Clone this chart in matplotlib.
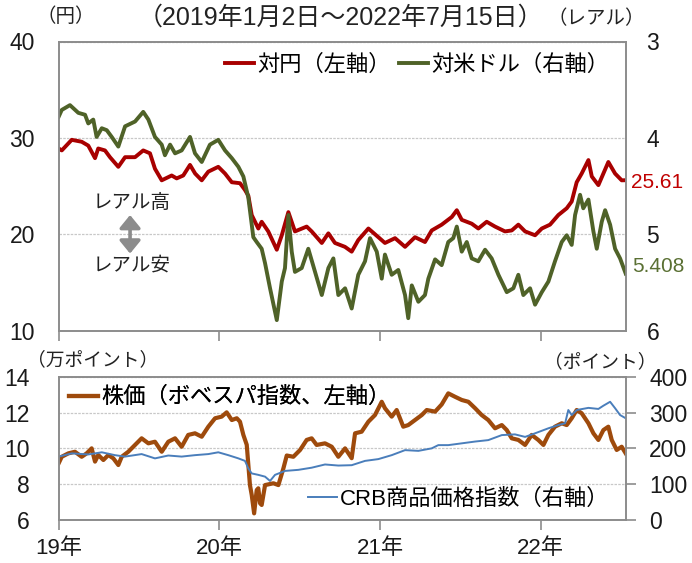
import matplotlib
matplotlib.use('Agg')
import matplotlib.pyplot as plt
from matplotlib.patches import FancyArrowPatch
import numpy as np

plt.rcParams['font.family'] = ['Liberation Sans', 'Noto Sans CJK JP']

# ---- data (decimal years) ----
jpy_t = [0.000, 0.019, 0.081, 0.143, 0.184, 0.226, 0.246, 0.288, 0.319, 0.371, 0.413, 0.475,
         0.526, 0.568, 0.599, 0.641, 0.703, 0.734, 0.775, 0.817, 0.849, 0.890, 0.931, 0.993,
         1.035, 1.077, 1.128, 1.159, 1.180, 1.201, 1.242, 1.263, 1.304, 1.357, 1.388, 1.429,
         1.470, 1.543, 1.574, 1.637, 1.678, 1.719, 1.781, 1.823, 1.864, 1.927, 1.989, 2.030,
         2.093, 2.155, 2.217, 2.279, 2.321, 2.383, 2.446, 2.477, 2.508, 2.570, 2.611, 2.663,
         2.715, 2.777, 2.819, 2.860, 2.902, 2.964, 3.006, 3.057, 3.109, 3.161, 3.192, 3.223,
         3.254, 3.296, 3.317, 3.358, 3.420, 3.462, 3.503, 3.528]
jpy_v = [28.9, 28.7, 29.8, 29.6, 29.2, 27.9, 28.9, 28.7, 28.0, 27.0, 28.0, 28.0,
         28.7, 28.4, 26.8, 25.6, 26.1, 25.8, 26.1, 27.2, 26.3, 25.6, 26.5, 27.0,
         26.3, 25.4, 25.3, 24.6, 24.0, 22.0, 20.6, 21.3, 20.3, 18.4, 19.9, 22.3,
         20.3, 20.8, 20.3, 19.1, 20.1, 19.1, 18.7, 18.2, 19.4, 20.6, 19.7, 19.1,
         19.6, 18.7, 19.7, 19.2, 20.4, 21.0, 21.8, 22.5, 21.5, 21.1, 20.6, 21.3,
         20.8, 20.3, 20.4, 21.0, 20.3, 19.9, 20.6, 21.0, 22.0, 22.7, 23.4, 25.4,
         26.3, 27.7, 26.0, 25.1, 27.5, 26.3, 25.6, 25.61]

usd_t = [0.000, 0.019, 0.070, 0.122, 0.164, 0.184, 0.215, 0.236, 0.268, 0.299, 0.330, 0.371,
         0.413, 0.475, 0.526, 0.558, 0.599, 0.641, 0.661, 0.693, 0.724, 0.765, 0.817, 0.848,
         0.890, 0.941, 0.993, 1.035, 1.077, 1.118, 1.149, 1.180, 1.211, 1.232, 1.263, 1.284,
         1.315, 1.357, 1.388, 1.408, 1.429, 1.450, 1.470, 1.512, 1.553, 1.595, 1.637, 1.678,
         1.709, 1.740, 1.782, 1.823, 1.864, 1.906, 1.937, 1.979, 2.010, 2.030, 2.072, 2.113,
         2.155, 2.175, 2.197, 2.238, 2.279, 2.300, 2.342, 2.383, 2.424, 2.455, 2.477, 2.508,
         2.539, 2.570, 2.611, 2.653, 2.694, 2.736, 2.788, 2.829, 2.860, 2.891, 2.933, 2.964,
         3.006, 3.047, 3.088, 3.130, 3.161, 3.192, 3.213, 3.244, 3.264, 3.296, 3.327, 3.348,
         3.379, 3.400, 3.431, 3.462, 3.493, 3.528]
usd_v = [3.78, 3.71, 3.66, 3.74, 3.76, 3.85, 3.81, 3.99, 3.90, 3.92, 3.99, 4.09,
         3.88, 3.83, 3.73, 3.81, 3.99, 4.07, 4.18, 4.07, 4.16, 4.13, 3.99, 4.16,
         4.25, 4.07, 4.02, 4.13, 4.21, 4.30, 4.40, 4.62, 5.03, 5.08, 5.15, 5.30,
         5.56, 5.89, 5.49, 5.35, 4.80, 5.18, 5.39, 5.35, 5.15, 5.39, 5.63, 5.35,
         5.25, 5.63, 5.56, 5.77, 5.42, 5.28, 5.04, 5.18, 5.46, 5.21, 5.42, 5.37,
         5.63, 5.87, 5.53, 5.70, 5.63, 5.46, 5.26, 5.32, 5.08, 5.04, 4.92, 5.18,
         5.08, 5.25, 5.28, 5.16, 5.25, 5.42, 5.60, 5.56, 5.42, 5.63, 5.56, 5.73,
         5.60, 5.49, 5.28, 5.08, 5.01, 5.11, 4.80, 4.59, 4.73, 4.64, 4.97, 5.15,
         4.87, 4.75, 4.90, 5.15, 5.25, 5.408]

bov_t = [0.000, 0.019, 0.060, 0.101, 0.143, 0.174, 0.205, 0.226, 0.246, 0.278, 0.309, 0.340,
         0.371, 0.392, 0.433, 0.475, 0.516, 0.558, 0.599, 0.641, 0.682, 0.724, 0.765, 0.806,
         0.848, 0.890, 0.931, 0.973, 1.014, 1.045, 1.077, 1.108, 1.128, 1.149, 1.170, 1.190,
         1.201, 1.216, 1.232, 1.242, 1.253, 1.263, 1.284, 1.336, 1.367, 1.398, 1.419, 1.460,
         1.502, 1.543, 1.574, 1.605, 1.657, 1.699, 1.740, 1.782, 1.823, 1.844, 1.885, 1.927,
         1.968, 2.010, 2.030, 2.072, 2.103, 2.144, 2.175, 2.217, 2.259, 2.290, 2.342, 2.383,
         2.424, 2.466, 2.508, 2.549, 2.591, 2.632, 2.673, 2.715, 2.757, 2.788, 2.819, 2.860,
         2.902, 2.943, 2.984, 3.016, 3.047, 3.088, 3.130, 3.161, 3.192, 3.223, 3.254, 3.296,
         3.327, 3.358, 3.389, 3.420, 3.441, 3.472, 3.503, 3.528]
bov_v = [9.17, 9.53, 9.72, 9.81, 9.53, 9.72, 10.0, 9.26, 9.63, 9.35, 9.63, 9.44,
         9.07, 9.53, 9.81, 10.19, 10.56, 10.28, 10.37, 9.81, 10.37, 10.56, 10.09, 10.75,
         10.84, 10.65, 11.21, 11.68, 11.77, 12.01, 11.58, 11.68, 11.49, 10.75, 10.2, 7.95,
         7.4, 6.37, 7.67, 7.77, 6.93, 6.84, 7.95, 8.05, 7.95, 8.88, 9.6, 9.53,
         9.91, 10.47, 10.56, 10.19, 10.28, 10.09, 9.53, 10.0, 9.45, 10.84, 10.93, 11.49,
         11.86, 12.60, 12.24, 11.77, 12.14, 11.21, 11.30, 11.58, 11.86, 12.14, 12.05, 12.45,
         13.07, 12.88, 12.70, 12.60, 12.24, 11.86, 11.58, 11.12, 11.30, 11.02, 10.56, 10.47,
         10.19, 10.75, 10.47, 10.19, 10.75, 11.21, 11.40, 11.30, 11.68, 12.14, 11.96, 11.40,
         10.84, 10.47, 11.02, 11.21, 10.47, 9.91, 10.09, 9.72]

crb_t = [0.000, 0.081, 0.184, 0.268, 0.350, 0.413, 0.516, 0.599, 0.682, 0.765, 0.848, 0.931,
         0.993, 1.055, 1.118, 1.159, 1.180, 1.201, 1.242, 1.284, 1.315, 1.346, 1.408, 1.491,
         1.574, 1.657, 1.740, 1.823, 1.906, 1.989, 2.072, 2.155, 2.238, 2.321, 2.362, 2.424,
         2.508, 2.591, 2.673, 2.757, 2.839, 2.902, 2.964, 3.047, 3.109, 3.151, 3.171, 3.192,
         3.223, 3.296, 3.358, 3.389, 3.431, 3.462, 3.493, 3.528]
crb_v = [177, 186, 183, 189, 181, 177, 184, 172, 180, 177, 181, 184,
         189, 181, 172, 165, 144, 130, 126, 121, 109, 126, 137, 140,
         146, 155, 152, 153, 165, 170, 181, 195, 193, 200, 209, 209,
         214, 219, 223, 237, 239, 232, 242, 256, 265, 270, 307, 293,
         307, 313, 310, 319, 330, 312, 293, 284]

year_ticks = [2019, 2020, 2021, 2022]
year_labels = ['19年', '20年', '21年', '22年']

jpy_t = 2019 + np.array(jpy_t)
usd_t = 2019 + np.array(usd_t)
bov_t = 2019 + np.array(bov_t)
crb_t = 2019 + np.array(crb_t)

RED = '#A80000'
GREEN = '#4F6228'
BROWN = '#9E4A0C'
BLUE = '#4A7EBB'
SPINE = '#8C8C8C'
GRID = '#C8C8C8'
TXT = '#1a1a1a'

W, H = 692, 563
fig = plt.figure(figsize=(W / 100, H / 100), dpi=100)

def fx(px):
    return px / W

def fy(py):
    return 1 - py / H

xmin, xmax = 2019.0, 2019 + 3.528

# ---------------- top panel ----------------
ax1 = fig.add_axes([fx(58.7), fy(330.7), fx(625.7) - fx(58.7), fy(41.5) - fy(330.7)])
ax1r = ax1.twinx()
ax1.set_xlim(xmin, xmax)
ax1.set_ylim(10, 40)
ax1r.set_ylim(6, 3)
ax1.set_yticks([10, 20, 30, 40])
ax1r.set_yticks([3, 4, 5, 6])
ax1.yaxis.grid(True, color=GRID, linestyle=(0, (2, 1)), lw=0.9)
ax1.set_axisbelow(True)
l1, = ax1.plot(jpy_t, jpy_v, color=RED, lw=2.8, solid_joinstyle='round', label='対円（左軸）')
l2, = ax1r.plot(usd_t, usd_v, color=GREEN, lw=2.8, solid_joinstyle='round', label='対米ドル（右軸）')
ax1.set_xticks(year_ticks)
ax1.set_xticklabels([])
ax1.tick_params(axis='x', direction='out', length=7, color=SPINE, width=1.2)
ax1.tick_params(axis='y', length=0, pad=17, labelsize=16.5, labelcolor=TXT)
ax1r.tick_params(axis='y', length=0, pad=15, labelsize=16.5, labelcolor=TXT)
for a in (ax1, ax1r):
    for s in a.spines.values():
        s.set_color(SPINE)
        s.set_linewidth(1.2)
ax1.legend(handles=[l1, l2], loc='upper right', bbox_to_anchor=(0.995, 1.0), ncol=2,
           frameon=False, fontsize=16, handlelength=1.3, handletextpad=0.15,
           columnspacing=0.4, borderaxespad=0.2)

ax1.annotate(f'{jpy_v[-1]:.2f}', xy=(jpy_t[-1], jpy_v[-1]), xytext=(4, -2),
             textcoords='offset points', color='#C00000', fontsize=15, va='center', ha='left',
             annotation_clip=False)
ax1r.annotate(f'{usd_v[-1]:.3f}', xy=(usd_t[-1], usd_v[-1]), xytext=(5, 5),
              textcoords='offset points', color='#5A7033', fontsize=15, va='center', ha='left',
              annotation_clip=False)

# レアル高 / 安 annotation
ax1.text(2019.456, 23.2, 'レアル高', fontsize=14, color='#222222', ha='center', va='center')
ax1.text(2019.456, 16.8, 'レアル安', fontsize=14, color='#222222', ha='center', va='center')
arr = FancyArrowPatch((2019.444, 22.0), (2019.444, 18.0),
                      arrowstyle='<|-|>,head_length=0.55,head_width=0.45',
                      mutation_scale=14, lw=2.6, color='#8C8C8C', shrinkA=0, shrinkB=0)
ax1.add_patch(arr)

# ---------------- bottom panel ----------------
ax2 = fig.add_axes([fx(58.7), fy(520), fx(625.7) - fx(58.7), fy(376.7) - fy(520)])
ax2r = ax2.twinx()
ax2.set_xlim(xmin, xmax)
ax2.set_ylim(6, 14)
ax2r.set_ylim(0, 400)
ax2.set_yticks([6, 8, 10, 12, 14])
ax2r.set_yticks([0, 100, 200, 300, 400])
ax2.yaxis.grid(True, color=GRID, linestyle=(0, (2, 1)), lw=0.9)
ax2.set_axisbelow(True)
l3, = ax2.plot(bov_t, bov_v, color=BROWN, lw=3.0, solid_joinstyle='round',
               label='株価（ボベスパ指数、左軸）')
l4, = ax2r.plot(crb_t, crb_v, color=BLUE, lw=1.4, label='CRB商品価格指数（右軸）')
ax2.set_xticks(year_ticks)
ax2.set_xticklabels(year_labels)
ax2.tick_params(axis='x', direction='out', length=7, color=SPINE, width=1.2, pad=6,
                labelsize=16, labelcolor=TXT)
ax2.tick_params(axis='y', length=0, pad=21, labelsize=16.5, labelcolor=TXT)
ax2r.tick_params(axis='y', direction='out', length=7, color=SPINE, width=1.2, pad=10,
                 labelsize=16.5, labelcolor=TXT)
for a in (ax2, ax2r):
    for s in a.spines.values():
        s.set_color(SPINE)
        s.set_linewidth(1.2)
lg1 = ax2.legend(handles=[l3], loc='upper left', bbox_to_anchor=(-0.005, 1.02), frameon=False,
                 fontsize=16, handlelength=1.3, handletextpad=0.15, borderaxespad=0.2)
ax2.add_artist(lg1)
ax2r.legend(handles=[l4], loc='lower right', bbox_to_anchor=(0.995, -0.02), frameon=False,
            fontsize=16, handlelength=1.3, handletextpad=0.15, borderaxespad=0.2)

# ---------------- header / unit texts ----------------
fig.text(fx(340), fy(18), '（2019年1月2日～2022年7月15日）', fontsize=18, ha='center', va='center',
         color='#222222')
fig.text(fx(66), fy(17), '（円）', fontsize=14, ha='center', va='center', color='#222222')
fig.text(fx(596), fy(19), '（レアル）', fontsize=14, ha='center', va='center', color='#222222')
fig.text(fx(93), fy(360), '（万ポイント）', fontsize=13.5, ha='center', va='center', color='#222222')
fig.text(fx(600), fy(362), '（ポイント）', fontsize=13.5, ha='center', va='center', color='#222222')

fig.savefig('out.png', dpi=100)
